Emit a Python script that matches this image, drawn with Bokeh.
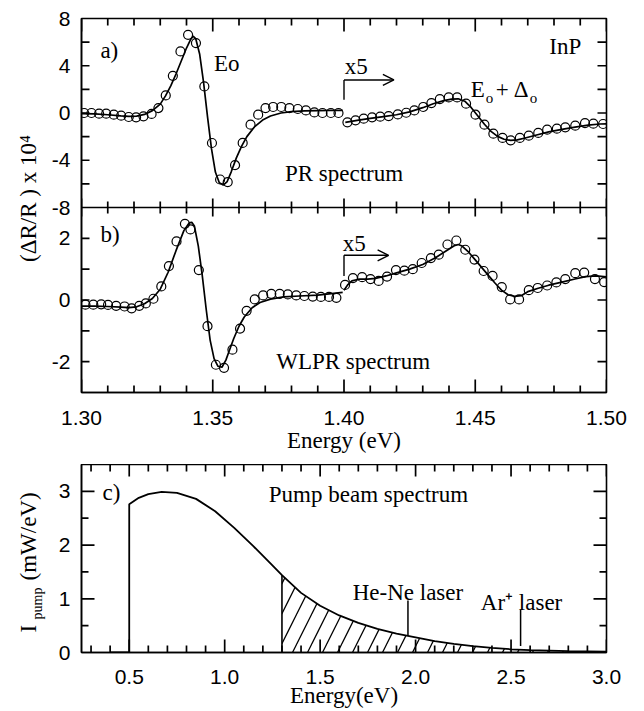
import numpy as np
from bokeh.plotting import figure
from bokeh.models import (LinearAxis, FixedTicker, SingleIntervalTicker, Range1d,
                          Arrow, OpenHead, NumeralTickFormatter, Label, Span)
from bokeh.layouts import row, column
from bokeh.embed import file_html
from bokeh.resources import INLINE

# ---------------- data ----------------
PR_E1 = [1.3010, 1.3038, 1.3067, 1.3094, 1.3123, 1.3151, 1.3180, 1.3208, 1.3236, 1.3267,
         1.3293, 1.3321, 1.3348, 1.3377, 1.3406, 1.3436, 1.3468, 1.3497, 1.3528, 1.3557,
         1.3585, 1.3614, 1.3644, 1.3673, 1.3701, 1.3730, 1.3761, 1.3792, 1.3824, 1.3855,
         1.3887, 1.3918, 1.3950, 1.3979]
PR_R1 = [0.0, 0.0, -0.06, -0.06, -0.14, -0.23, -0.34, -0.37, -0.28, -0.08,
         0.42, 1.49, 3.15, 5.21, 6.62, 5.92, 2.25, -2.54, -5.63, -5.85,
         -4.42, -2.53, -0.99, -0.14, 0.42, 0.51, 0.51, 0.42, 0.34, 0.22,
         0.05, 0.0, 0.0, 0.0]
PR_E2 = [1.4013, 1.4044, 1.4075, 1.4107, 1.4138, 1.4170, 1.4205, 1.4237, 1.4268, 1.4302,
         1.4333, 1.4365, 1.4399, 1.4431, 1.4465, 1.4501, 1.4535, 1.4569, 1.4604, 1.4635,
         1.4670, 1.4704, 1.4740, 1.4774, 1.4811, 1.4843, 1.4881, 1.4918, 1.4950, 1.4987]
PR_R2 = [-0.79, -0.62, -0.48, -0.37, -0.31, -0.26, -0.12, 0.02, 0.22, 0.51,
         0.84, 1.18, 1.32, 1.32, 0.79, -0.14, -0.99, -1.75, -2.11, -2.31,
         -2.11, -1.92, -1.69, -1.41, -1.33, -1.21, -1.07, -0.85, -0.90, -0.93]
PR_FIT_E1 = [1.300, 1.305, 1.310, 1.315, 1.318, 1.321, 1.324, 1.327, 1.330, 1.332, 1.334,
             1.336, 1.338, 1.340, 1.3415, 1.3425, 1.3435, 1.345, 1.3465, 1.348, 1.3495,
             1.351, 1.3525, 1.354, 1.3555, 1.357, 1.359, 1.361, 1.363, 1.366, 1.369,
             1.372, 1.376, 1.380, 1.385, 1.390, 1.395, 1.3995]
PR_FIT_R1 = [-0.05, -0.08, -0.15, -0.25, -0.28, -0.26, -0.12, 0.2, 0.75, 1.45, 2.3,
             3.3, 4.4, 5.5, 6.2, 6.5, 6.3, 5.0, 2.6, -0.3, -3.0,
             -5.0, -5.9, -6.1, -5.8, -5.0, -3.8, -2.8, -2.0, -1.15, -0.6,
             -0.25, 0.0, 0.12, 0.18, 0.2, 0.22, 0.22]
PR_FIT_E2 = [1.4005, 1.405, 1.410, 1.415, 1.420, 1.425, 1.430, 1.434, 1.438, 1.441, 1.4435,
             1.446, 1.4485, 1.451, 1.4535, 1.456, 1.4585, 1.461, 1.4635, 1.466, 1.469,
             1.473, 1.478, 1.483, 1.488, 1.493, 1.4975, 1.500]
PR_FIT_R2 = [-0.8, -0.62, -0.45, -0.3, -0.15, 0.1, 0.45, 0.78, 1.05, 1.18, 1.2,
             1.0, 0.45, -0.25, -0.95, -1.55, -1.98, -2.22, -2.32, -2.28, -2.12,
             -1.88, -1.6, -1.38, -1.2, -1.03, -0.93, -0.92]

WL_E1 = [1.3015, 1.3045, 1.3075, 1.3101, 1.3132, 1.3164, 1.3191, 1.3220, 1.3245, 1.3274,
         1.3304, 1.3333, 1.3362, 1.3394, 1.3415, 1.3447, 1.3480, 1.3512, 1.3543, 1.3575,
         1.3604, 1.3629, 1.3660, 1.3692, 1.3723, 1.3755, 1.3786, 1.3818, 1.3849, 1.3881,
         1.3912, 1.3943, 1.3971]
WL_R1 = [-0.15, -0.15, -0.14, -0.16, -0.19, -0.21, -0.27, -0.19, -0.11, 0.04,
         0.44, 1.10, 1.90, 2.47, 2.29, 0.97, -0.85, -2.10, -2.20, -1.61,
         -0.93, -0.35, 0.02, 0.15, 0.20, 0.20, 0.18, 0.15, 0.13, 0.11,
         0.10, 0.10, 0.07]
WL_E2 = [1.4004, 1.4034, 1.4069, 1.4101, 1.4132, 1.4164, 1.4198, 1.4230, 1.4262, 1.4296,
         1.4331, 1.4361, 1.4394, 1.4428, 1.4462, 1.4497, 1.4532, 1.4566, 1.4601, 1.4633,
         1.4667, 1.4704, 1.4738, 1.4774, 1.4809, 1.4843, 1.4881, 1.4915, 1.4956, 1.4991]
WL_R2 = [0.49, 0.71, 0.74, 0.68, 0.62, 0.76, 0.97, 0.95, 1.00, 1.20,
         1.36, 1.47, 1.80, 1.93, 1.63, 1.31, 0.94, 0.78, 0.42, 0.02,
         0.02, 0.32, 0.39, 0.47, 0.57, 0.68, 0.87, 0.89, 0.68, 0.58]
WL_FIT_E1 = [1.300, 1.305, 1.310, 1.315, 1.318, 1.321, 1.324, 1.327, 1.330, 1.333, 1.336,
             1.339, 1.341, 1.342, 1.343, 1.3445, 1.346, 1.3475, 1.349, 1.3505, 1.352,
             1.3535, 1.355, 1.3565, 1.358, 1.360, 1.362, 1.365, 1.368, 1.372, 1.377,
             1.383, 1.390, 1.3995]
WL_FIT_R1 = [-0.2, -0.2, -0.21, -0.23, -0.25, -0.22, -0.12, 0.05, 0.35, 0.9, 1.6,
             2.25, 2.5, 2.52, 2.4, 1.75, 0.8, -0.3, -1.3, -1.9, -2.15,
             -2.18, -1.95, -1.6, -1.25, -0.85, -0.55, -0.25, -0.08, 0.03, 0.1,
             0.13, 0.16, 0.25]
WL_FIT_E2 = [1.4000, 1.4015, 1.403, 1.406, 1.409, 1.412, 1.416, 1.420, 1.425, 1.430, 1.435,
             1.439, 1.442, 1.4435, 1.445, 1.4475, 1.450, 1.4525, 1.455, 1.4575, 1.460,
             1.4625, 1.465, 1.4675, 1.470, 1.474, 1.478, 1.483, 1.488, 1.492, 1.496, 1.500]
WL_FIT_R2 = [0.32, 0.5, 0.62, 0.68, 0.68, 0.7, 0.78, 0.88, 1.0, 1.15, 1.38,
             1.6, 1.76, 1.8, 1.75, 1.55, 1.3, 1.05, 0.8, 0.55, 0.32,
             0.17, 0.12, 0.14, 0.27, 0.38, 0.48, 0.58, 0.68, 0.76, 0.78, 0.75]

PUMP_CUTOFF_FROM = 0.40
PUMP_E = [0.50, 0.55, 0.60, 0.67, 0.75, 0.85, 0.95, 1.05, 1.15, 1.25, 1.30, 1.40, 1.50,
          1.60, 1.70, 1.80, 1.90, 2.00, 2.10, 2.20, 2.30, 2.40, 2.50, 2.60, 2.70, 2.80,
          2.90, 3.00]
PUMP_I = [2.76, 2.88, 2.95, 2.99, 2.97, 2.86, 2.63, 2.32, 1.98, 1.62, 1.44, 1.11, 0.87,
          0.69, 0.55, 0.44, 0.35, 0.28, 0.21, 0.16, 0.12, 0.085, 0.06, 0.045, 0.035, 0.025,
          0.02, 0.015]
SHADE_FROM = 1.30
LASER_E = [1.96, 2.55]
LASER_Y0 = [0.31, 0.12]
LASER_Y1 = [0.97, 0.80]

AB_X_MAJOR = [1.30, 1.35, 1.40, 1.45, 1.50]
A_Y_LABELLED = [-8, -4, 0, 4, 8]
A_Y_TICKS = [-6, -4, -2, 0, 2, 4, 6]
B_Y_LABELLED = [-2, 0, 2]
B_Y_TICKS = [-2, -1, 0, 1, 2]
C_X_MAJOR = [0.5, 1.0, 1.5, 2.0, 2.5, 3.0]
C_Y_MAJOR = [1, 2, 3]
C_Y_MINOR = [0.5, 1.5, 2.5]

SERIF = "Liberation Serif"
SANS = "Liberation Sans"
TXT = "23px"
TICK_TXT = "21px"
TICK_W = 1.7

AB_W, AB_H, AB_L, AB_R, AB_T, AB_B = 588, 464, 32, 26, 18, 72
C_W, C_H, C_L, C_R, C_T, C_B = 588, 247, 29, 30, 0, 59
A_PX, B_PX = 189, 185
A_RANGE = (-8.0, 8.0)
B_RANGE = (-3.0, 3.0)
AB_X = (1.30, 1.50)
C_X = (0.25, 3.0)
C_Y = (0.0, 3.5)


def a_to_b(v):
    return B_RANGE[1] + (v - A_RANGE[0]) * (A_PX / (A_RANGE[1] - A_RANGE[0])) / \
        (B_PX / (B_RANGE[1] - B_RANGE[0]))


B_TOP = a_to_b(A_RANGE[1])
A_BOTTOM = A_RANGE[0] - (A_RANGE[1] - A_RANGE[0]) * B_PX / A_PX


def minors(lo, hi, step, majors):
    vals = np.round(np.arange(lo, hi + step / 2, step), 6)
    return [float(v) for v in vals if not np.any(np.isclose(v, majors))]


def label_axis(ticker, fmt=None, overrides=None, standoff=10, axis_label=None,
               axis_label_standoff=0):
    ax = LinearAxis(ticker=ticker)
    ax.axis_line_width = 1.5
    ax.axis_line_color = "black"
    ax.major_tick_in = 0
    ax.major_tick_out = 0
    ax.minor_tick_in = 0
    ax.minor_tick_out = 0
    ax.major_label_text_font = SANS
    ax.major_label_text_font_size = TICK_TXT
    ax.major_label_text_color = "black"
    ax.major_label_standoff = standoff
    if fmt is not None:
        ax.formatter = fmt
    if overrides:
        ax.major_label_overrides = overrides
    if axis_label:
        ax.axis_label = axis_label
        ax.axis_label_text_font = SERIF
        ax.axis_label_text_font_size = TXT
        ax.axis_label_text_font_style = "normal"
        ax.axis_label_text_color = "black"
        ax.axis_label_standoff = axis_label_standoff
    return ax


def base_fig(w, h, xr, yr, left, right, top, bottom):
    p = figure(width=w, height=h, x_range=Range1d(*xr), y_range=Range1d(*yr),
               x_axis_location=None, y_axis_location=None, toolbar_location=None,
               output_backend="svg", min_border_left=left, min_border_right=right,
               min_border_top=top, min_border_bottom=bottom)
    p.grid.visible = False
    p.outline_line_color = "black"
    p.outline_line_width = 1.6
    p.background_fill_color = "white"
    p.border_fill_color = "white"
    return p


def ticks(p, positions, edge, length_px, on_x, rn="default"):
    """Tick marks: thin filled rectangles in screen units centred on a frame edge;
    the frame clips the outer half, leaving an inward tick of length_px."""
    n = len(positions)
    pos = [float(v) for v in positions]
    if on_x:
        xs, ys, w, h = pos, [float(edge)] * n, TICK_W, 2 * length_px
    else:
        xs, ys, w, h = [float(edge)] * n, pos, 2 * length_px, TICK_W
    p.rect(x=xs, y=ys, width=w, height=h, width_units="screen", height_units="screen",
           fill_color="black", line_color=None, y_range_name=rn)


def lab(p, x, y, text, size=TXT, align="left", baseline="middle", x_off=0, y_off=0,
        rn="default"):
    p.add_layout(Label(x=x, y=y, text=text, text_font=SERIF, text_font_size=size,
                       text_align=align, text_baseline=baseline, x_offset=x_off,
                       y_offset=y_off, text_color="black", y_range_name=rn))


def x5_arrow(p, x, y0, y1, x_end, rn="default"):
    p.segment(x0=[x], y0=[y0], x1=[x], y1=[y1], line_color="black", line_width=1.4,
              y_range_name=rn)
    p.add_layout(Arrow(end=OpenHead(size=11, line_width=1.4, line_color="black"),
                       x_start=x, y_start=y1, x_end=x_end, y_end=y1,
                       line_width=1.4, line_color="black", y_range_name=rn))


def txt(v):
    return ("-" + str(abs(v))) if v < 0 else str(v)


# ---------------- panels a + b ----------------
pab = base_fig(AB_W, AB_H, AB_X, (B_RANGE[0], B_TOP), AB_L, AB_R, AB_T, AB_B)
pab.extra_y_ranges = {"a": Range1d(A_BOTTOM, A_RANGE[1])}

left_pos = [float(v) for v in B_Y_LABELLED] + [a_to_b(v) for v in A_Y_LABELLED]
left_txt = [txt(v) for v in B_Y_LABELLED] + [txt(v) for v in A_Y_LABELLED]
pab.add_layout(label_axis(FixedTicker(ticks=left_pos, minor_ticks=[]),
                          overrides=dict(zip(left_pos, left_txt)), standoff=11), "left")
pab.add_layout(label_axis(SingleIntervalTicker(interval=0.05, num_minor_ticks=0),
                          fmt=NumeralTickFormatter(format="0.00"), standoff=18,
                          axis_label="Energy (eV)", axis_label_standoff=0), "below")

pab.line(PR_FIT_E1, PR_FIT_R1, line_color="black", line_width=1.7, y_range_name="a")
pab.line(PR_FIT_E2, PR_FIT_R2, line_color="black", line_width=1.7, y_range_name="a")
pab.scatter(PR_E1 + PR_E2, PR_R1 + PR_R2, marker="circle", size=9, fill_color=None,
            line_color="black", line_width=1.2, y_range_name="a")
x5_arrow(pab, 1.40, 1.12, 2.8, 1.419, "a")
lab(pab, 1.3072, 5.3, "a)", rn="a")
lab(pab, 1.3505, 4.2, "Eo", rn="a")
lab(pab, 1.4003, 3.9, "x5", rn="a")
lab(pab, 1.400, -5.1, "PR spectrum", align="center", rn="a")
lab(pab, 1.4843, 5.6, "InP", align="center", rn="a")
lab(pab, 1.4483, 1.97, "E", rn="a")
lab(pab, 1.4483, 1.97, "o", size="15px", x_off=15, y_off=-8, rn="a")
lab(pab, 1.4483, 1.97, "+", x_off=25, rn="a")
lab(pab, 1.4483, 1.97, "\u0394", x_off=43, rn="a")
lab(pab, 1.4483, 1.97, "o", size="15px", x_off=59, y_off=-8, rn="a")

pab.line(WL_FIT_E1, WL_FIT_R1, line_color="black", line_width=1.7)
pab.line(WL_FIT_E2, WL_FIT_R2, line_color="black", line_width=1.7)
pab.scatter(WL_E1 + WL_E2, WL_R1 + WL_R2, marker="circle", size=9, fill_color=None,
            line_color="black", line_width=1.2)
x5_arrow(pab, 1.40, 0.78, 1.45, 1.417)
lab(pab, 1.3072, 2.14, "b)")
lab(pab, 1.3995, 1.82, "x5")
lab(pab, 1.4035, -1.99, "WLPR spectrum", align="center")

ab_minor = minors(1.30, 1.50, 0.01, AB_X_MAJOR)
ticks(pab, AB_X_MAJOR, B_RANGE[0], 13, True)
ticks(pab, ab_minor, B_RANGE[0], 7, True)
ticks(pab, AB_X_MAJOR, A_RANGE[1], 13, True, "a")
ticks(pab, ab_minor, A_RANGE[1], 7, True, "a")
ticks(pab, AB_X_MAJOR, B_RANGE[1], 9, True)      # crossing ticks on the a/b boundary
ticks(pab, ab_minor, B_RANGE[1], 6, True)
for edge, ln in [(AB_X[0], 8), (AB_X[1], 9)]:
    ticks(pab, A_Y_TICKS, edge, ln, False, "a")
    ticks(pab, B_Y_TICKS, edge, ln, False)
pab.add_layout(Span(location=B_RANGE[1], dimension="width", line_color="black",
                    line_width=1.6))

# ---------------- panel c ----------------
pc = base_fig(C_W, C_H, C_X, C_Y, C_L, C_R, C_T, C_B)
pc.add_layout(label_axis(FixedTicker(ticks=[0, 1, 2, 3], minor_ticks=[]), standoff=11),
              "left")
pc.add_layout(label_axis(SingleIntervalTicker(interval=0.5, num_minor_ticks=0),
                         fmt=NumeralTickFormatter(format="0.0"), standoff=17,
                         axis_label="Energy(eV)", axis_label_standoff=-4), "below")

pe = np.array(PUMP_E)
pi_ = np.array(PUMP_I)
mask = pe > SHADE_FROM
shade_top = float(np.interp(SHADE_FROM, pe, pi_))
hx = np.concatenate([[SHADE_FROM], pe[mask]])
hy = np.concatenate([[shade_top], pi_[mask]])
pc.varea(x=hx, y1=np.zeros_like(hx), y2=hy, fill_color=None, fill_alpha=0,
         hatch_pattern="/", hatch_color="black", hatch_scale=30, hatch_weight=1.3)
pc.segment(x0=[SHADE_FROM], y0=[0], x1=[SHADE_FROM], y1=[shade_top],
           line_color="black", line_width=1.6)
step_x = [PUMP_CUTOFF_FROM, PUMP_E[0]] + PUMP_E
step_y = [0, 0] + PUMP_I
pc.line(step_x, step_y, line_color="black", line_width=1.8)
pc.segment(x0=LASER_E, y0=LASER_Y0, x1=LASER_E, y1=LASER_Y1, line_color="black",
           line_width=1.5)
lab(pc, 0.36, 2.97, "c)")
lab(pc, 1.753, 2.95, "Pump beam spectrum", align="center")
lab(pc, 1.96, 1.11, "He-Ne laser", align="center", baseline="alphabetic")
lab(pc, 2.555, 0.94, "Ar\u207a laser", align="center", baseline="alphabetic")

c_minor = minors(0.3, 3.0, 0.1, C_X_MAJOR)
ticks(pc, C_X_MAJOR, C_Y[0], 13, True)
ticks(pc, c_minor, C_Y[0], 7, True)
ticks(pc, C_X_MAJOR, C_Y[1], 12, True)
ticks(pc, c_minor, C_Y[1], 7, True)
for edge in (C_X[0], C_X[1]):
    ticks(pc, C_Y_MAJOR, edge, 13, False)
    ticks(pc, C_Y_MINOR, edge, 7, False)

# ---------------- left strip ----------------
H_TOTAL = AB_H + C_H
pl = figure(width=48, height=H_TOTAL, x_range=Range1d(0, 48), y_range=Range1d(0, H_TOTAL),
            x_axis_location=None, y_axis_location=None, toolbar_location=None,
            output_backend="svg", min_border=0)
pl.grid.visible = False
pl.outline_line_color = None
for x, y, t, s, al in [(28, H_TOTAL - 198, "(\u0394R/R ) x 10\u2074", TXT, "center"),
                       (28, H_TOTAL - 632, "I", TXT, "left"),
                       (37, H_TOTAL - 619, "pump", "14px", "left"),
                       (28, H_TOTAL - 580, "(mW/eV)", TXT, "left")]:
    pl.add_layout(Label(x=x, y=y, text=t, angle=np.pi / 2, text_font=SERIF,
                        text_font_size=s, text_align=al, text_baseline="middle",
                        text_color="black"))

layout = row(pl, column(pab, pc))
open("out.html", "w").write(file_html(layout, INLINE))
